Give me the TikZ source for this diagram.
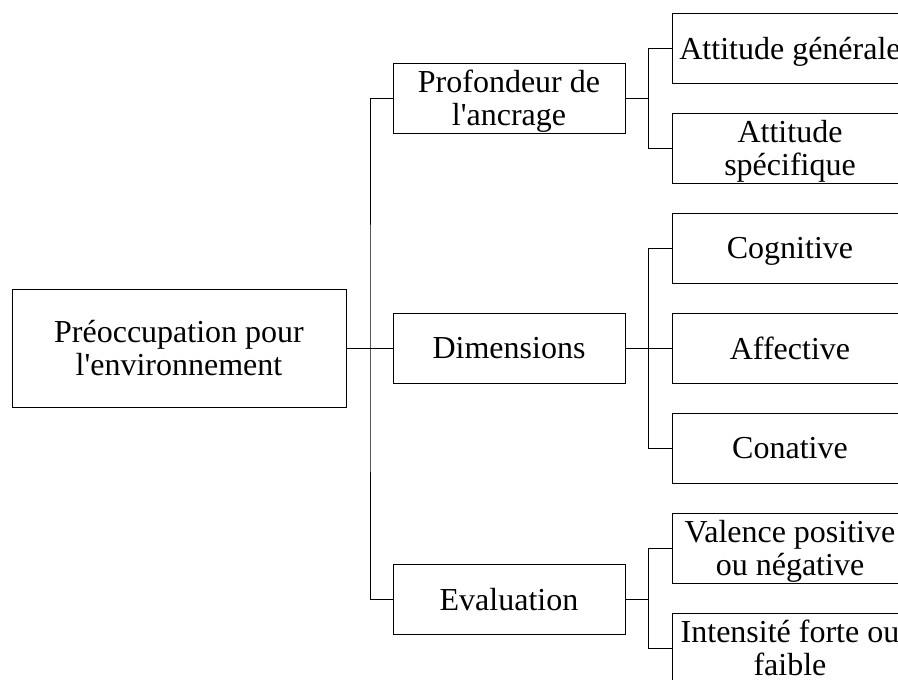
\documentclass[tikz,border=0pt]{standalone}
\usepackage{fontspec}
\setmainfont{Liberation Serif}[Ligatures=TeXOff]
\begin{document}
\begin{tikzpicture}[x=1pt, y=-1pt,
  box/.style={draw, line width=1pt, minimum width=232pt, minimum height=70pt,
    inner sep=0pt, text depth=0pt, align=center, font=\fontsize{32}{33}\selectfont},
  leaf/.style={box, minimum width=236pt},
  link/.style={line width=1pt}]
  \useasboundingbox (0,0) rectangle (898,680);
  \clip (0,0) rectangle (898,680);

  % Root
  \node[box, minimum width=334pt, minimum height=118pt] (root) at (179,348)
    {Préoccupation pour\\l'environnement};

  % Middle level
  \node[box] (prof) at (509,98) {Profondeur de\\l'ancrage};
  \node[box] (dim)  at (509,348) {Dimensions};
  \node[box] (eval) at (509,599) {Evaluation};

  % Leaves (cut off at the right edge)
  \node[leaf] (gen)  at (790,48)  {Attitude générale};
  \node[leaf] (spec) at (790,148) {Attitude\\spécifique};
  \node[leaf] (cog)  at (790,248) {Cognitive};
  \node[leaf] (aff)  at (790,348) {Affective};
  \node[leaf] (con)  at (790,448) {Conative};
  \node[leaf] (val)  at (790,548) {Valence positive\\ou négative};
  \node[leaf] (int)  at (790,648) {Intensité forte ou\\faible};

  % Trunk
  \coordinate (hub) at (370,348);
  \draw[link] (root) -- (dim);
  \draw[link] (prof.west) -| (hub) |- (eval.west);

  % Branches
  \foreach \parent/\top/\bottom in {prof/gen/spec, dim/cog/con, eval/val/int} {
    \coordinate (\parent-hub) at ([xshift=23pt]\parent.east);
    \draw[link] (\parent.east) -- (\parent-hub);
    \draw[link] (\top.west) -| (\parent-hub) |- (\bottom.west);
  }
  \draw[link] (dim-hub) -- (aff);
\end{tikzpicture}
\end{document}
